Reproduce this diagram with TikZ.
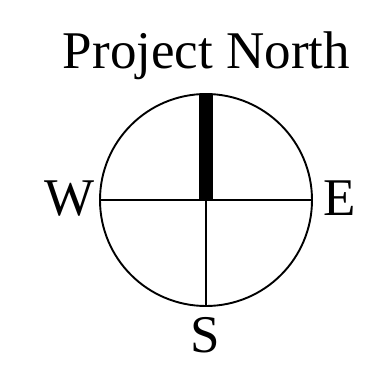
\documentclass[tikz,border=0pt]{standalone}
\usepackage{fontspec}
\setmainfont{Liberation Serif}
\begin{document}
\begin{tikzpicture}[x=1pt,y=-1pt,
  lbl/.style={inner sep=0pt, anchor=base, font=\fontsize{53}{60}\selectfont},
  ring/.style={circle, draw, line width=1.9pt, minimum size=212pt, inner sep=0pt},
  axis/.style={line width=1.5pt}]
\useasboundingbox (0,0) rectangle (392,370);
\node[ring] (c) at (206,200) {};
\draw[axis] (c.west) -- (c.east);
\draw[axis] (c.center) -- (c.south);
\fill (198.5,93.5) rectangle (212.5,200.5);
\node[lbl] (title) at (206.5,68) {Project North};
\node[lbl] (w) at (69.5,215) {W};
\node[lbl] (e) at (339.5,215) {E};
\node[lbl] (s) at (205,352) {S};
\end{tikzpicture}
\end{document}
